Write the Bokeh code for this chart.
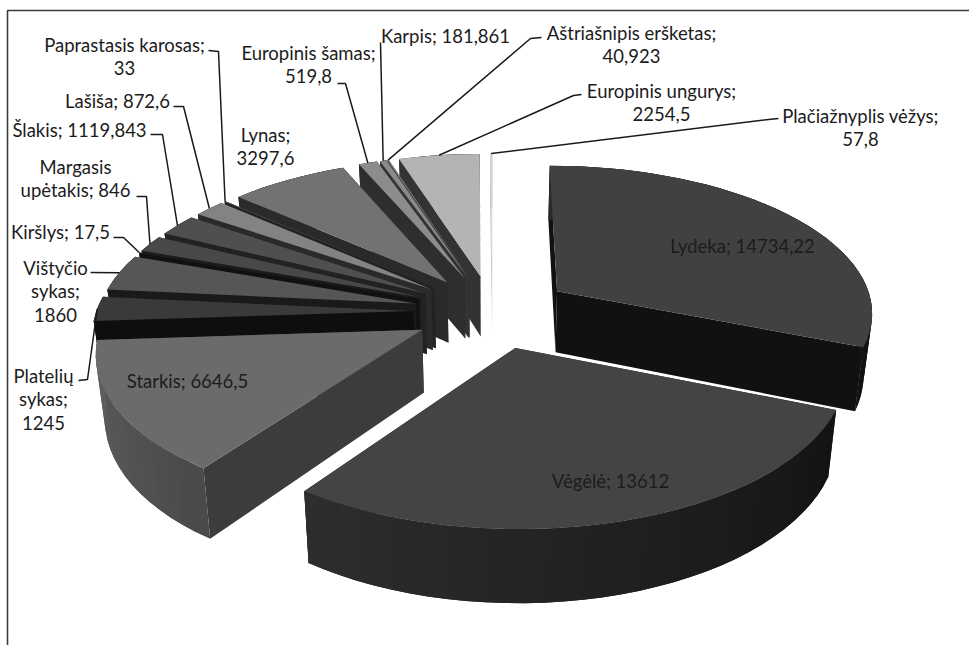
import math
from bokeh.plotting import figure
from bokeh.models import ColumnDataSource
from bokeh.core.properties import value
from bokeh.embed import file_html
from bokeh.resources import INLINE

# Catch by species, clockwise from twelve o'clock
species = ["Lydeka", "Vėgėlė", "Starkis", "Platelių sykas", "Vištyčio sykas", "Kiršlys",
           "Margasis upėtakis", "Šlakis", "Lašiša", "Paprastasis karosas", "Lynas",
           "Europinis šamas", "Karpis", "Aštriašnipis eršketas", "Europinis ungurys",
           "Plačiažnyplis vėžys"]
catch = [14734.22, 13612, 6646.5, 1245, 1860, 17.5, 846, 1119.843, 872.6, 33, 3297.6,
         519.8, 181.861, 40.923, 2254.5, 57.8]

# Slice shades
top_colors = ["#414141", "#444444", "#6b6b6b", "#3a3a3a", "#565656", "#333333", "#484848", "#4f4f4f",
              "#838383", "#555555", "#727272", "#8c8c8c", "#8a8a8a", "#808080", "#b4b4b4", "#d4d4d4"]
wall_colors = ["#111111", "#222222", "#3c3c3c", "#0e0e0e", "#1a1a1a", "#111111", "#1c1c1c", "#222222",
               "#2a2a2a", "#222222", "#2a2a2a", "#2e2e2e", "#333333", "#333333", "#333333", "#c4c4c4"]
rim_start = [(0x2a,)*3, (0x13,)*3, (0x4a,)*3, (0x0e,)*3, (0x1a,)*3, (0x11,)*3, (0x1c,)*3, (0x22,)*3,
             (0x2a,)*3, (0x22,)*3, (0x2a,)*3, (0x2e,)*3, (0x33,)*3, (0x33,)*3, (0x33,)*3, (0xc4,)*3]
rim_end = [(0x11,)*3, (0x2e,)*3, (0x60,)*3, (0x0e,)*3, (0x1a,)*3, (0x11,)*3, (0x1c,)*3, (0x22,)*3,
           (0x2a,)*3, (0x22,)*3, (0x2a,)*3, (0x2e,)*3, (0x33,)*3, (0x33,)*3, (0x33,)*3, (0xc4,)*3]

# Label layout: words per line, centre x, first line y, and the leader's elbow points
label_wraps = [[3], [2], [2], [1, 1, 1], [1, 1, 1], [2], [1, 2], [2], [2], [2, 1], [1, 1],
               [2, 1], [2], [2, 1], [2, 1], [2, 1]]
label_x = [742, 610, 187, 43, 55, 60, 75, 79, 117, 124, 265, 308, 445, 631, 661, 860]
label_y = [245, 480, 380, 375, 267, 231, 166, 129, 100, 44, 134, 52, 35, 32, 90, 115]
leader_elbows = [[], [], [], [(78, 380), (87, 379)], [(90, 272)], [(113, 237), (123, 237)],
                 [(136, 196), (146, 196)], [(150, 134), (162, 134)], [(173, 106), (183, 106)],
                 [(208, 50), (218, 51)], [], [(337, 83), (345, 83)], [(380, 42)],
                 [(541, 37), (530, 38)], [(581, 94), (573, 95)], [(778, 118), (768, 119)]]

# Projection of the disc onto the page
CX, CY = 492.0, 311.0
SCALE_X, SCALE_Y = 317.0, 147.0
PERSPECTIVE = 0.131
EXPLODE = 0.25
THICKNESS = 62.0
BOTTOM_SHRINK = 0.977
LINE_PITCH = 23.5


def project(u, v, bottom=False):
    w = 1.0 / (1.0 - PERSPECTIVE * v)
    x = SCALE_X * u * w
    y = CY + SCALE_Y * v * w
    if bottom:
        return CX + x * BOTTOM_SHRINK, y + THICKNESS * w
    return CX + x, y


def rim_point(theta, mid, bottom=False):
    u = EXPLODE * math.sin(mid) + math.sin(theta)
    v = -EXPLODE * math.cos(mid) - math.cos(theta)
    return project(u, v, bottom)


def shade(a, b, t):
    return "#%02x%02x%02x" % tuple(round(a[i] + (b[i] - a[i]) * t) for i in range(3))


total = sum(catch)
slices = []
acc = 0.0
for i, val in enumerate(catch):
    start = acc / total * 2 * math.pi
    acc += val
    end = acc / total * 2 * math.pi
    slices.append((i, start, end, (start + end) / 2))

# Back slices are painted first so nearer ones overlap them
paint_order = sorted(slices, key=lambda s: -math.cos(s[3]))

xs, ys, colors = [], [], []


def add_face(points, color):
    xs.append([q[0] for q in points])
    ys.append([q[1] for q in points])
    colors.append(color)


for i, start, end, mid in paint_order:
    apex_top = project(EXPLODE * math.sin(mid), -EXPLODE * math.cos(mid))
    apex_low = project(EXPLODE * math.sin(mid), -EXPLODE * math.cos(mid), True)
    steps = max(2, int((end - start) / math.radians(3)))
    thetas = [start + (end - start) * k / steps for k in range(steps + 1)]
    for edge in (start, end):
        add_face([apex_top, rim_point(edge, mid), rim_point(edge, mid, True), apex_low], wall_colors[i])
    # Rim strips overlap the next one so no seams show between shades
    for k in range(steps):
        arc = thetas[k:k + 3]
        add_face([rim_point(t, mid) for t in arc] + [rim_point(t, mid, True) for t in reversed(arc)],
                 shade(rim_start[i], rim_end[i], k / steps))
    add_face([apex_top] + [rim_point(t, mid) for t in thetas], top_colors[i])

p = figure(width=969, height=645, x_range=(0, 969), y_range=(645, 0),
           output_backend="svg", toolbar_location=None, min_border=0,
           x_axis_location=None, y_axis_location=None, outline_line_color=None,
           background_fill_color="white", border_fill_color="white")
p.grid.visible = False

# Chart frame
p.line([7, 7, 969], [645, 10, 10], line_color="#3c3c3c", line_width=1.6)

p.patches(xs="xs", ys="ys", fill_color="color", line_color=None,
          source=ColumnDataSource(dict(xs=xs, ys=ys, color=colors)))

# Leader lines end on the outer edge of their slice
for i, start, end, mid in slices:
    if not leader_elbows[i]:
        continue
    tip = rim_point(mid, mid)
    pts = leader_elbows[i] + [tip]
    p.line([q[0] for q in pts], [q[1] for q in pts], line_color="#1a1a1a", line_width=1.5)

tx, ty, tt = [], [], []
for i, name in enumerate(species):
    value_text = str(catch[i]).replace(".", ",")
    words = f"{name}; {value_text}".split(" ")
    pos = 0
    for n, count in enumerate(label_wraps[i]):
        tx.append(label_x[i])
        ty.append(label_y[i] + n * LINE_PITCH)
        tt.append(" ".join(words[pos:pos + count]))
        pos += count
p.text(x="x", y="y", text="t", source=ColumnDataSource(dict(x=tx, y=ty, t=tt)),
       text_font=value("Lato"), text_font_size="18.5px", text_color="#1c1c1c",
       text_align="center", text_baseline="middle")

open("out.html", "w").write(file_html(p, INLINE))
